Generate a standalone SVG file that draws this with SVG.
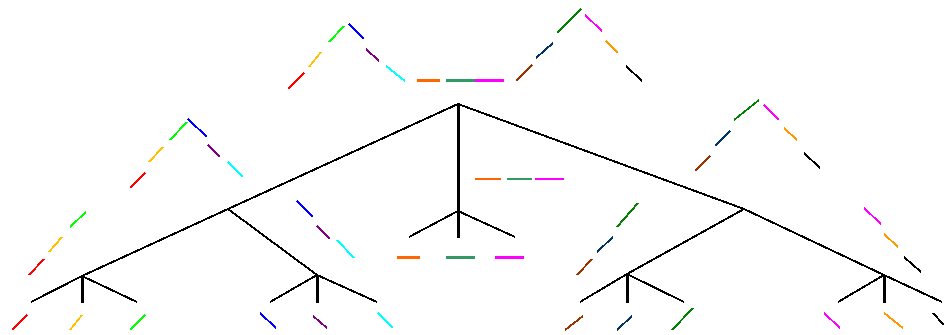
<svg xmlns="http://www.w3.org/2000/svg" width="944" height="335" viewBox="0 0 944 335">
<style>
line{shape-rendering:crispEdges;stroke-linecap:butt;fill:none}
.k{stroke:#000;stroke-width:2}
.s{stroke:#000;stroke-width:3}
.c{stroke-width:2}
.d{stroke-width:3}
.red{stroke:#ff0000}.yel{stroke:#ffc000}.grn{stroke:#00ff00}.blu{stroke:#0000ff}
.pur{stroke:#800080}.cya{stroke:#00ffff}.org{stroke:#ff6600}.sea{stroke:#339966}
.mag{stroke:#ff00ff}.brn{stroke:#993300}.nav{stroke:#003366}.dgr{stroke:#008000}
.or2{stroke:#ff9900}.blk{stroke:#000000}
</style>
<rect width="944" height="335" fill="#fff"/>
<g id="tree">
<line class="k" x1="458" y1="104" x2="228" y2="209"/>
<line class="k" x1="228" y1="209" x2="82" y2="276"/>
<line class="k" x1="82" y1="276" x2="31" y2="302"/>
<line class="k" x1="82" y1="276" x2="137" y2="302"/>
<line class="s" x1="82" y1="275" x2="82" y2="303"/>
<line class="k" x1="228" y1="209" x2="317" y2="275"/>
<line class="k" x1="317" y1="275" x2="270" y2="302"/>
<line class="k" x1="317" y1="275" x2="377" y2="302"/>
<line class="s" x1="317" y1="275" x2="317" y2="303"/>
<line class="k" x1="458" y1="104" x2="744" y2="209"/>
<line class="k" x1="744" y1="209" x2="884" y2="275"/>
<line class="k" x1="884" y1="275" x2="942" y2="302"/>
<line class="k" x1="884" y1="275" x2="838" y2="302"/>
<line class="s" x1="884" y1="275" x2="884" y2="303"/>
<line class="k" x1="744" y1="209" x2="627" y2="274"/>
<line class="k" x1="627" y1="274" x2="580" y2="302"/>
<line class="k" x1="627" y1="274" x2="684" y2="302"/>
<line class="s" x1="627" y1="274" x2="627" y2="303"/>
<line class="s" x1="458" y1="104" x2="458" y2="238"/>
<line class="k" x1="458" y1="211" x2="409" y2="237"/>
<line class="k" x1="458" y1="211" x2="515" y2="237"/>
</g>
<g id="top-left">
<line class="c red" x1="288" y1="89" x2="304" y2="73"/>
<line class="c yel" x1="309" y1="67" x2="321" y2="52"/>
<line class="c grn" x1="329" y1="42" x2="344" y2="26"/>
<line class="c blu" x1="349" y1="24" x2="364" y2="39"/>
<line class="c pur" x1="366" y1="49" x2="379" y2="61"/>
<line class="c cya" x1="386" y1="66" x2="405" y2="81"/>
</g>
<g id="top-dashes">
<line class="d org" x1="417" y1="80" x2="440" y2="80"/>
<line class="d sea" x1="446" y1="80" x2="475" y2="80"/>
<line class="d mag" x1="475" y1="80" x2="504" y2="80"/>
</g>
<g id="top-right">
<line class="c brn" x1="516" y1="81" x2="532" y2="65"/>
<line class="c nav" x1="536" y1="58" x2="553" y2="43"/>
<line class="c dgr" x1="557" y1="33" x2="581" y2="9"/>
<line class="c mag" x1="585" y1="15" x2="602" y2="31"/>
<line class="c or2" x1="606" y1="41" x2="618" y2="53"/>
<line class="c blk" x1="626" y1="66" x2="642" y2="81"/>
</g>
<g id="mid-left">
<line class="c red" x1="130" y1="188" x2="145" y2="173"/>
<line class="c yel" x1="149" y1="162" x2="163" y2="147"/>
<line class="c grn" x1="170" y1="140" x2="187" y2="122"/>
<line class="c blu" x1="188" y1="119" x2="207" y2="137"/>
<line class="c pur" x1="208" y1="145" x2="220" y2="157"/>
<line class="c cya" x1="228" y1="162" x2="243" y2="177"/>
</g>
<g id="mid-dashes">
<line class="c org" x1="475" y1="179" x2="501" y2="179"/>
<line class="c sea" x1="507" y1="179" x2="532" y2="179"/>
<line class="c mag" x1="535" y1="179" x2="564" y2="179"/>
</g>
<g id="mid-right">
<line class="c brn" x1="695" y1="171" x2="710" y2="156"/>
<line class="c nav" x1="715" y1="146" x2="730" y2="131"/>
<line class="c dgr" x1="734" y1="120" x2="759" y2="100"/>
<line class="c mag" x1="764" y1="105" x2="779" y2="120"/>
<line class="c or2" x1="784" y1="128" x2="797" y2="140"/>
<line class="c blk" x1="804" y1="153" x2="820" y2="168"/>
</g>
<g id="low-left">
<line class="c red" x1="29" y1="275" x2="44" y2="259"/>
<line class="c yel" x1="49" y1="252" x2="62" y2="237"/>
<line class="c grn" x1="70" y1="227" x2="86" y2="212"/>
<line class="c blu" x1="297" y1="201" x2="313" y2="217"/>
<line class="c pur" x1="317" y1="226" x2="330" y2="239"/>
<line class="c cya" x1="337" y1="240" x2="354" y2="258"/>
</g>
<g id="low-dashes">
<line class="d org" x1="397" y1="257" x2="420" y2="257"/>
<line class="d sea" x1="446" y1="257" x2="475" y2="257"/>
<line class="d mag" x1="495" y1="257" x2="524" y2="257"/>
</g>
<g id="low-right">
<line class="c brn" x1="577" y1="275" x2="592" y2="259"/>
<line class="c nav" x1="597" y1="252" x2="613" y2="237"/>
<line class="c dgr" x1="617" y1="227" x2="638" y2="203"/>
<line class="c mag" x1="864" y1="208" x2="881" y2="224"/>
<line class="c or2" x1="884" y1="234" x2="898" y2="247"/>
<line class="c blk" x1="904" y1="257" x2="921" y2="272"/>
</g>
<g id="bottom">
<line class="c red" x1="12" y1="330" x2="27" y2="315"/>
<line class="c yel" x1="70" y1="330" x2="82" y2="315"/>
<line class="c grn" x1="130" y1="330" x2="145" y2="315"/>
<line class="c blu" x1="260" y1="313" x2="276" y2="328"/>
<line class="c pur" x1="313" y1="316" x2="327" y2="328"/>
<line class="c cya" x1="378" y1="313" x2="393" y2="328"/>
<line class="c brn" x1="565" y1="330" x2="583" y2="316"/>
<line class="c nav" x1="617" y1="330" x2="632" y2="316"/>
<line class="c dgr" x1="672" y1="330" x2="693" y2="308"/>
<line class="c mag" x1="824" y1="313" x2="840" y2="328"/>
<line class="c or2" x1="884" y1="313" x2="903" y2="328"/>
<line class="c blk" x1="933" y1="313" x2="944" y2="325"/>
</g>
</svg>
